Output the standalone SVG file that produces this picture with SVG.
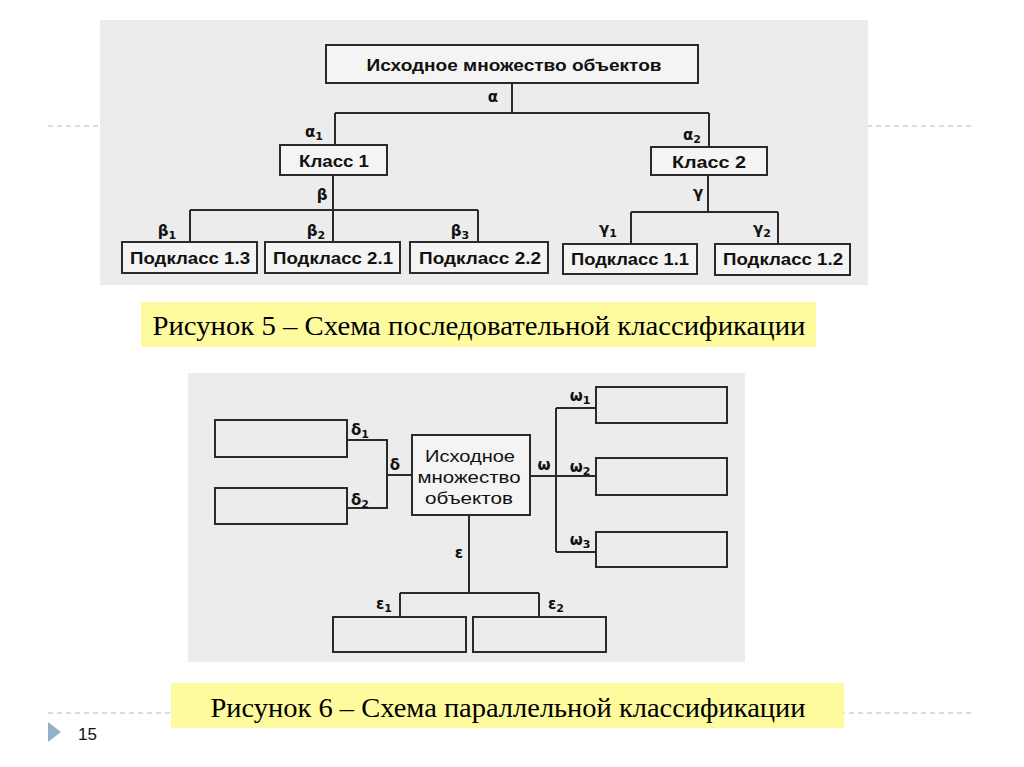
<svg xmlns="http://www.w3.org/2000/svg" width="1024" height="767" viewBox="0 0 1024 767">
<style>
.sep{stroke:#a9bccb;stroke-width:1.2;stroke-dasharray:5 4;fill:none}
.photo{fill:#ececec}
.box{fill:#f4f4f4;stroke:#2a2a2a;stroke-width:2}
.ebox{fill:none;stroke:#2a2a2a;stroke-width:2}
.ln{fill:none;stroke:#2a2a2a;stroke-width:2}
.t{font-family:"Liberation Sans",Arial,sans-serif;fill:#111;text-anchor:middle}
.tb{font-weight:bold;font-size:17px}
.tn{font-size:17px}
.g{font-family:"DejaVu Sans","Liberation Sans",sans-serif;font-weight:bold;font-size:15px;fill:#111;text-anchor:middle}
.sub{font-size:11px}
.cap{fill:#fdfb9e}
.ct{font-family:"Liberation Serif","Times New Roman",serif;font-size:27px;fill:#000;text-anchor:middle}
</style>
<rect width="1024" height="767" fill="#ffffff"/>
<line class="sep" x1="48" y1="126" x2="975" y2="126"/>
<line class="sep" x1="48" y1="713" x2="975" y2="713"/>

<!-- Figure 5 -->
<rect class="photo" x="100" y="20" width="768" height="265"/>
<g id="connectors5">
<path class="ln" d="M512 83 V113 M335 113 H709 M335 113 V145 M709 113 V147"/>
<path class="ln" d="M333 175 V210 M190 210 H478 M190 210 V242 M333 210 V242 M478 210 V242"/>
<path class="ln" d="M708 175 V212 M631 212 H778 M631 212 V244 M778 212 V244"/>
<text class="g" x="493" y="102">α</text>
<text class="g" x="314" y="137">α<tspan class="sub" dy="3">1</tspan></text>
<text class="g" x="692" y="140">α<tspan class="sub" dy="3">2</tspan></text>
<text class="g" x="322" y="200">β</text>
<text class="g" x="167" y="236">β<tspan class="sub" dy="3">1</tspan></text>
<text class="g" x="316" y="236">β<tspan class="sub" dy="3">2</tspan></text>
<text class="g" x="460" y="236">β<tspan class="sub" dy="3">3</tspan></text>
<text class="g" x="698" y="198">γ</text>
<text class="g" x="608" y="234">γ<tspan class="sub" dy="3">1</tspan></text>
<text class="g" x="762" y="234">γ<tspan class="sub" dy="3">2</tspan></text>
</g>
<g id="root5"><rect class="box" x="326" y="45" width="372" height="38"/><text class="t tb" x="514" y="71" textLength="295" lengthAdjust="spacingAndGlyphs">Исходное множество объектов</text></g>
<g id="class1"><rect class="box" x="280" y="145" width="107" height="30"/><text class="t tb" x="334" y="167" textLength="70" lengthAdjust="spacingAndGlyphs">Класс 1</text></g>
<g id="class2"><rect class="box" x="651" y="147" width="116" height="28"/><text class="t tb" x="709" y="168" textLength="74" lengthAdjust="spacingAndGlyphs">Класс 2</text></g>
<g id="sub13"><rect class="box" x="122" y="242" width="135" height="31"/><text class="t tb" x="190" y="264" textLength="120" lengthAdjust="spacingAndGlyphs">Подкласс 1.3</text></g>
<g id="sub21"><rect class="box" x="265" y="242" width="135" height="31"/><text class="t tb" x="333" y="264" textLength="120" lengthAdjust="spacingAndGlyphs">Подкласс 2.1</text></g>
<g id="sub22"><rect class="box" x="410" y="242" width="138" height="31"/><text class="t tb" x="480" y="264" textLength="122" lengthAdjust="spacingAndGlyphs">Подкласс 2.2</text></g>
<g id="sub11"><rect class="box" x="563" y="244" width="134" height="30"/><text class="t tb" x="630" y="265" textLength="118" lengthAdjust="spacingAndGlyphs">Подкласс 1.1</text></g>
<g id="sub12"><rect class="box" x="715" y="244" width="135" height="31"/><text class="t tb" x="783" y="265" textLength="120" lengthAdjust="spacingAndGlyphs">Подкласс 1.2</text></g>

<g id="caption5"><rect class="cap" x="141" y="302" width="675" height="45"/><text class="ct" x="479" y="335" textLength="653" lengthAdjust="spacingAndGlyphs">Рисунок 5 – Схема последовательной классификации</text></g>

<!-- Figure 6 -->
<rect class="photo" x="188" y="373" width="557" height="289" fill="#eeeeee"/>
<g id="connectors6">
<path class="ln" d="M347 440 H387 V508 H347 M387 475 H412"/>
<path class="ln" d="M530 476 H596 M556 408 V552 M556 408 H596 M556 552 H596"/>
<path class="ln" d="M469 515 V593 M400 593 H539 M400 593 V617 M539 593 V617"/>
<text class="g" x="360" y="435">δ<tspan class="sub" dy="3">1</tspan></text>
<text class="g" x="360" y="505">δ<tspan class="sub" dy="3">2</tspan></text>
<text class="g" x="395" y="470">δ</text>
<text class="g" x="544" y="470">ω</text>
<text class="g" x="580" y="401">ω<tspan class="sub" dy="3">1</tspan></text>
<text class="g" x="580" y="472">ω<tspan class="sub" dy="3">2</tspan></text>
<text class="g" x="580" y="545">ω<tspan class="sub" dy="3">3</tspan></text>
<text class="g" x="459" y="558">ε</text>
<text class="g" x="384" y="609">ε<tspan class="sub" dy="3">1</tspan></text>
<text class="g" x="556" y="609">ε<tspan class="sub" dy="3">2</tspan></text>
</g>
<g id="root6"><rect class="box" x="412" y="435" width="118" height="80"/>
<text class="t tn" x="470" y="462" textLength="90" lengthAdjust="spacingAndGlyphs">Исходное</text><text class="t tn" x="469" y="483" textLength="103" lengthAdjust="spacingAndGlyphs">множество</text><text class="t tn" x="469" y="504" textLength="88" lengthAdjust="spacingAndGlyphs">объектов</text></g>
<g id="d1"><rect class="ebox" x="215" y="420" width="132" height="37"/></g>
<g id="d2"><rect class="ebox" x="215" y="488" width="132" height="36"/></g>
<g id="w1"><rect class="ebox" x="596" y="387" width="131" height="36"/></g>
<g id="w2"><rect class="ebox" x="596" y="458" width="131" height="37"/></g>
<g id="w3"><rect class="ebox" x="596" y="532" width="131" height="35"/></g>
<g id="e1"><rect class="ebox" x="333" y="617" width="133" height="35"/></g>
<g id="e2"><rect class="ebox" x="473" y="617" width="133" height="35"/></g>

<g id="caption6"><rect class="cap" x="171" y="683" width="673" height="45"/><text class="ct" x="508" y="717" textLength="595" lengthAdjust="spacingAndGlyphs">Рисунок 6 – Схема параллельной классификации</text></g>

<g id="footer"><polygon points="48,722 61,732 48,742" fill="#94b0c6"/><text x="78" y="740" font-family="Liberation Sans,Arial,sans-serif" font-size="17" fill="#111">15</text></g>
</svg>
